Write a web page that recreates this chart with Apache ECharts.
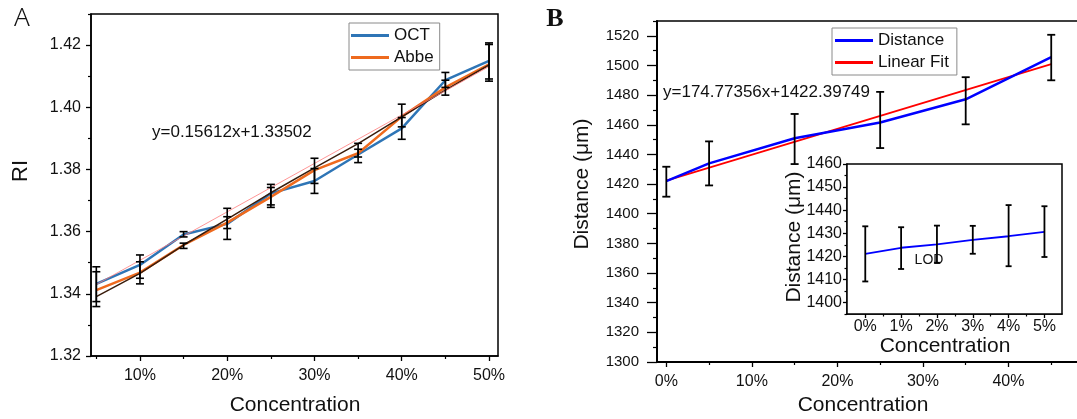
<!DOCTYPE html>
<html>
<head>
<meta charset="utf-8">
<script src="https://cdn.jsdelivr.net/npm/echarts@6/dist/echarts.min.js"></script>
<style>html,body{margin:0;padding:0;background:#fff}#c{width:1077px;height:419px}</style>
</head>
<body>
<div id="c"></div>
<script>
// ---- Panel A data ----
const concA = [0.05, 0.10, 0.15, 0.20, 0.25, 0.30, 0.35, 0.40, 0.45, 0.50];
const octRI = [1.3432, 1.3493, 1.3591, 1.3625, 1.3723, 1.3763, 1.3848, 1.3932, 1.4087, 1.4149];
const abbeRI = [1.3412, 1.3468, 1.3557, 1.3629, 1.3712, 1.3798, 1.3852, 1.3970, 1.4064, 1.4138];
const darkRI = [1.3391, 1.3466, 1.3557, 1.3640, 1.3725, 1.3805, 1.3883, 1.3969, 1.4055, 1.4136];
const octLow = [1.3359, 1.3432, 1.3583, 1.3575, 1.3686, 1.3723, 1.3822, 1.3897, 1.4064, 1.4091];
const octHigh = [1.3487, 1.3525, 1.3600, 1.3675, 1.3752, 1.3803, 1.3884, 1.3967, 1.4112, 1.4207];
const abbeLow = [1.3375, 1.3450, 1.3546, 1.3610, 1.3678, 1.3755, 1.3840, 1.3937, 1.4039, 1.4084];
const abbeHigh = [1.3471, 1.3503, 1.3563, 1.3648, 1.3742, 1.3836, 1.3865, 1.4010, 1.4087, 1.4202];
const fitAx = [0.05, 0.50];
const fitAy = [1.3430, 1.4131];
const xLabelsA = [0.1, 0.2, 0.3, 0.4, 0.5];
const xMinorA = [0.05, 0.15, 0.25, 0.35, 0.45];
const yLabelsA = [1.32, 1.34, 1.36, 1.38, 1.40, 1.42];
const yMinorA = [1.33, 1.35, 1.37, 1.39, 1.41, 1.43];

// ---- Panel B data ----
const concB = [0, 0.05, 0.15, 0.25, 0.35, 0.45];
const distB = [1422.0, 1434.0, 1450.9, 1461.5, 1477.2, 1505.6];
const distLowB = [1411.5, 1419.1, 1433.5, 1444.3, 1460.3, 1490.0];
const distHighB = [1431.7, 1448.8, 1467.3, 1482.2, 1492.1, 1520.7];
const fitBx = [0, 0.45];
const fitBy = [1422.4, 1500.9];
const xLabelsB = [0, 0.1, 0.2, 0.3, 0.4, 0.5];
const xMinorB = [0.05, 0.15, 0.25, 0.35, 0.45];
const yLabelsB = [1300, 1320, 1340, 1360, 1380, 1400, 1420, 1440, 1460, 1480, 1500, 1520];
const yMinorB = [1310, 1330, 1350, 1370, 1390, 1410, 1430, 1450, 1470, 1490, 1510, 1530];

// ---- Inset data ----
const concLow = [0, 0.01, 0.02, 0.03, 0.04, 0.05];
const distLow = [1421.1, 1423.7, 1425.2, 1427.1, 1428.7, 1430.6];
const lowErrLow = [1409.1, 1414.5, 1417.2, 1421.1, 1415.7, 1419.7];
const lowErrHigh = [1433.0, 1432.6, 1433.3, 1433.2, 1442.2, 1441.7];
const xLabelsIn = [0, 0.01, 0.02, 0.03, 0.04, 0.05];
const xMinorIn = [0.005, 0.015, 0.025, 0.035, 0.045];
const yLabelsIn = [1400, 1410, 1420, 1430, 1440, 1450, 1460];
const yMinorIn = [1395, 1405, 1415, 1425, 1435, 1445, 1455];

const FONT = '"Liberation Sans", Arial, sans-serif';
const TXT = '#111';
const pct = v => Math.round(v * 100) + '%';

function axisPair(dim, gi, min, max, labels, minors, o) {
  const pos = dim === 'x' ? 'bottom' : 'left';
  const major = {
    type: 'value', gridIndex: gi, min: min, max: max, position: pos,
    axisLine: {show: true, onZero: false, lineStyle: {color: '#000', width: o.lw || 1.5}},
    axisTick: {show: true, inside: false, customValues: labels, length: o.majorLen, lineStyle: {color: '#000', width: 1.3}},
    axisLabel: {show: true, customValues: labels, formatter: o.fmt, fontSize: o.fs, color: TXT, fontFamily: FONT, margin: o.margin, hideOverlap: false},
    splitLine: {show: false}
  };
  const minor = {
    type: 'value', gridIndex: gi, min: min, max: max, position: pos,
    axisLine: {show: false, onZero: false},
    axisTick: {show: true, inside: false, customValues: minors, length: o.minorLen, lineStyle: {color: '#000', width: 1.2}},
    axisLabel: {show: false},
    splitLine: {show: false}
  };
  return [major, minor];
}

function lineSeries(name, xi, xs, ys, color, width, z) {
  return {
    name: name, type: 'line', xAxisIndex: xi, yAxisIndex: xi,
    data: xs.map((x, i) => [x, ys[i]]),
    showSymbol: false, symbol: 'none', smooth: false, z: z,
    lineStyle: {color: color, width: width}, itemStyle: {color: color},
    emphasis: {disabled: true}, silent: true
  };
}

function errSeries(xi, xs, lo, hi, capW, lw) {
  return {
    type: 'custom', xAxisIndex: xi, yAxisIndex: xi, z: 10, silent: true,
    data: xs.map((x, i) => [x, lo[i], hi[i]]),
    encode: {x: 0, y: [1, 2]},
    renderItem: function (params, api) {
      const x = api.value(0);
      const a = api.coord([x, api.value(1)]);
      const b = api.coord([x, api.value(2)]);
      const hw = capW / 2;
      const st = {stroke: '#000', lineWidth: lw};
      return {type: 'group', children: [
        {type: 'line', shape: {x1: a[0], y1: a[1], x2: b[0], y2: b[1]}, style: st},
        {type: 'line', shape: {x1: a[0] - hw, y1: a[1], x2: a[0] + hw, y2: a[1]}, style: st},
        {type: 'line', shape: {x1: b[0] - hw, y1: b[1], x2: b[0] + hw, y2: b[1]}, style: st}
      ]};
    }
  };
}

const xA = axisPair('x', 0, 0.0439, 0.5103, xLabelsA, xMinorA, {majorLen: 5, minorLen: 3, fs: 16, margin: 12, fmt: pct});
const yA = axisPair('y', 0, 1.32, 1.43, yLabelsA, yMinorA, {majorLen: 5, minorLen: 3, fs: 16, margin: 10, fmt: v => v.toFixed(2)});
const xB = axisPair('x', 1, -0.0109, 0.5, xLabelsB, xMinorB, {majorLen: 5, minorLen: 3, fs: 16, margin: 12, fmt: pct, lw: 2});
const yB = axisPair('y', 1, 1300, 1530, yLabelsB, yMinorB, {majorLen: 10, minorLen: 4, fs: 15, margin: 18, fmt: v => String(Math.round(v)), lw: 2});
const xI = axisPair('x', 2, -0.0051, 0.0549, xLabelsIn, xMinorIn, {majorLen: 4, minorLen: 2.5, fs: 16, margin: 5, fmt: pct, lw: 1.5});
const yI = axisPair('y', 2, 1395, 1460, yLabelsIn, yMinorIn, {majorLen: 4, minorLen: 2.5, fs: 16, margin: 5, fmt: v => String(Math.round(v)), lw: 1.5});

function legend(names, left, top, itemWidth, padding, gap) {
  return {
    data: names, left: left, top: top, orient: 'vertical', icon: 'rect',
    itemWidth: itemWidth, itemHeight: 3, itemGap: gap, padding: padding,
    borderColor: '#8a8a8a', borderWidth: 1, backgroundColor: '#fff',
    selectedMode: false, textStyle: {fontSize: 17, color: TXT, fontFamily: FONT, padding: [0, 0, 0, 0]}
  };
}

function txt(text, x, y, fs, extra) {
  return Object.assign({
    type: 'text', x: x, y: y, z: 100,
    style: Object.assign({text: text, fontSize: fs, fontFamily: FONT, fill: TXT, align: 'center', verticalAlign: 'middle'}, (extra && extra.style) || {})
  }, extra && extra.rotation !== undefined ? {rotation: extra.rotation} : {});
}

const gridBase = {show: true, borderColor: '#000', borderWidth: 1.5, containLabel: false, outerBoundsMode: 'none'};
const chart = echarts.init(document.getElementById('c'), null, {renderer: 'canvas'});
chart.setOption({
  animation: false,
  backgroundColor: '#fff',
  grid: [
    Object.assign({left: 91, top: 14, width: 407, height: 342, backgroundColor: 'transparent'}, gridBase),
    Object.assign({left: 657, top: 21, width: 437, height: 341, backgroundColor: 'transparent'}, gridBase),
    Object.assign({left: 847, top: 164, width: 215, height: 150, backgroundColor: '#fff', z: 5}, gridBase)
  ],
  xAxis: [xA[0], xA[1], xB[0], xB[1], xI[0], xI[1]],
  yAxis: [yA[0], yA[1], yB[0], yB[1], yI[0], yI[1]],
  legend: [
    legend(['OCT', 'Abbe'], 349, 23, 38, [4, 6, 4, 2], 5),
    legend(['Distance', 'Linear Fit'], 832, 28, 38, [4, 8, 4, 3], 5),
    legend(['Low-concentration'], 864, 174, 40, [4, 6, 4, 3], 5)
  ],
  series: [
    lineSeries('OCT', 0, concA, octRI, '#2E75B6', 2.5, 3),
    lineSeries('Abbe', 0, concA, abbeRI, '#EE6A1E', 2.5, 3),
    lineSeries('dark', 0, concA, darkRI, '#3A1D0C', 1.5, 4),
    lineSeries('fitA', 0, fitAx, fitAy, '#FF7B7B', 0.8, 5),
    errSeries(0, concA, octLow, octHigh, 8, 1.6),
    errSeries(0, concA, abbeLow, abbeHigh, 8, 1.6),
    lineSeries('Distance', 2, concB, distB, '#0000FF', 2.5, 4),
    lineSeries('Linear Fit', 2, fitBx, fitBy, '#FF0000', 1.8, 3),
    errSeries(2, concB, distLowB, distHighB, 8, 1.8),
    lineSeries('Low-concentration', 4, concLow, distLow, '#0000FF', 1.8, 12),
    Object.assign(errSeries(4, concLow, lowErrLow, lowErrHigh, 6, 1.8), {z: 13})
  ],
  graphic: [
    txt('A', 22, 19, 26, {style: {fontFamily: '"Noto Sans", sans-serif', fontWeight: 300}}),
    txt('B', 555, 19, 26, {style: {fontFamily: '"Liberation Serif", "Times New Roman", serif', fontWeight: 'bold'}}),
    txt('RI', 21, 171, 22, {rotation: Math.PI / 2}),
    txt('Concentration', 295, 405, 21),
    txt('y=0.15612x+1.33502', 152, 132, 17, {style: {align: 'left'}}),
    txt('Distance (μm)', 582, 184, 21, {rotation: Math.PI / 2}),
    txt('Concentration', 863, 405, 21),
    txt('y=174.77356x+1422.39749', 663, 92, 17, {style: {align: 'left'}}),
    txt('Distance (μm)', 794, 237, 21, {rotation: Math.PI / 2}),
    txt('Concentration', 945, 346, 21),
    txt('LOD', 929, 260, 14)
  ]
});
</script>
</body>
</html>
